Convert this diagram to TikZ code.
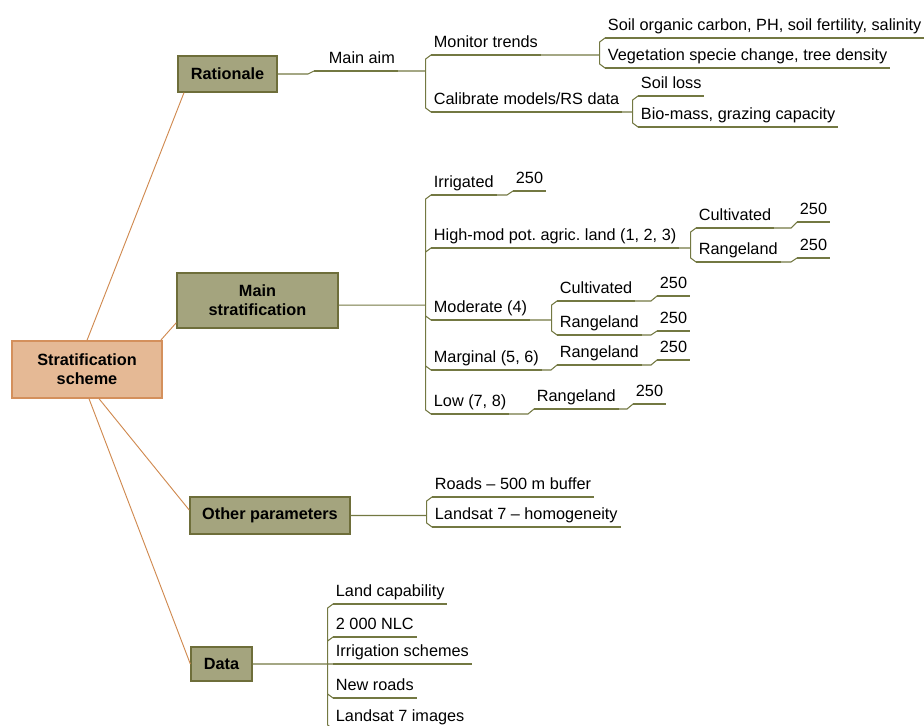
\documentclass[tikz,border=0pt]{standalone}
\usepackage{fontspec}
\setmainfont{Liberation Sans}
\usetikzlibrary{calc}
\frenchspacing

\definecolor{rootfill}{HTML}{E5B995}
\definecolor{rootline}{HTML}{D4905C}
\definecolor{boxfill}{HTML}{A4A47E}
\definecolor{boxline}{HTML}{6E6E3A}
\definecolor{branchcol}{HTML}{737842}
\definecolor{spokecol}{HTML}{D08A50}

\begin{document}
\begin{tikzpicture}[
  x=0.75pt, y=-0.75pt,
  every node/.style={font=\fontsize{12.2pt}{14.5pt}\selectfont},
  branch/.style={draw=branchcol, line width=0.8pt},
  spoke/.style={draw=spokecol, line width=0.7pt},
  hub/.style={draw=rootline, fill=rootfill, line width=1pt, align=center,
    font=\fontsize{12.2pt}{14.5pt}\selectfont\bfseries,
    minimum width=112.5pt, minimum height=42.75pt},
  topic/.style={draw=boxline, fill=boxfill, line width=1pt, align=center,
    font=\fontsize{12.2pt}{14.5pt}\selectfont\bfseries},
  item/.style={anchor=south west, inner xsep=2pt, inner ysep=2.4pt, text depth=2.9pt,
    append after command={(\tikzlastnode.south west) edge[branch] (\tikzlastnode.south east)}},
  elbow/.style={to path={let \p1=(\tikztostart), \p2=(\tikztotarget),
    \n1={(\y2-\y1>0.5)-(\y2-\y1<-0.5)} in
    -- (\x2-4pt,\y1) -- (\x2-4pt,\y2-\n1*3pt) -- (\x2,\y2)}},
  kink/.style={to path={let \p1=(\tikztostart), \p2=(\tikztotarget) in
    -- (\x2-4.5pt,\y1) -- (\x2,\y2)}}
]
  \useasboundingbox (0,0) rectangle (924,725);
  \clip (0,0) rectangle (924,725);

  % centre and main topics
  \node[hub] (root) at (87,369.5) {Stratification\\scheme};
  \node[topic, minimum width=74.25pt, minimum height=27pt] (rat) at (227.5,74) {Rationale};
  \node[topic, minimum width=120.75pt, minimum height=41.25pt] (mst) at (257.5,300.5) {Main\\stratification};
  \node[topic, minimum width=120pt, minimum height=27.75pt] (oth) at (270,515.5) {Other parameters};
  \node[topic, minimum width=45.75pt, minimum height=25.5pt] (dat) at (221.5,664) {Data};

  \draw[spoke] (root.north) -- ([xshift=5pt]rat.south west);
  \draw[spoke] ([xshift=-1.5pt]root.north east) -- ([yshift=4.5pt]mst.south west);
  \draw[spoke] ([xshift=9pt]root.south) -- ([yshift=4pt]oth.west);
  \draw[spoke] ([xshift=1.5pt]root.south) -- (dat.west);

  % rationale
  \node[item] (aim) at (314,71) {\hspace*{9pt}Main aim};
  \node[item] (mon) at (431,55) {Monitor trends};
  \node[item] (cal) at (431,112) {Calibrate models/RS data};
  \node[item] (soc) at (605,38) {Soil organic carbon, PH, soil fertility, salinity};
  \node[item] (veg) at (605,68) {Vegetation specie change, tree density};
  \node[item] (los) at (638,96) {Soil loss};
  \node[item] (bio) at (638,127) {Bio-mass, grazing capacity};
  \draw[branch] (rat.east) to[kink] (aim.south west);
  \draw[branch] (aim.south east) to[elbow] (mon.south west)
    (aim.south east) to[elbow] (cal.south west);
  \draw[branch] (mon.south east) to[elbow] (soc.south west)
    (mon.south east) to[elbow] (veg.south west);
  \draw[branch] (cal.south east) to[elbow] (los.south west)
    (cal.south east) to[elbow] (bio.south west);

  % main stratification
  \node[item] (irr) at (431,195) {Irrigated};
  \node[item] (irr250) at (513,191) {250};
  \node[item] (hmd) at (431,248) {High-mod pot. agric. land (1, 2, 3)};
  \node[item] (hmc) at (696,228) {Cultivated};
  \node[item] (hmc250) at (797,222) {250};
  \node[item] (hmr) at (696,262) {Rangeland};
  \node[item] (hmr250) at (797,258) {250};
  \node[item] (mod) at (431,320) {Moderate (4)};
  \node[item] (mdc) at (557,301) {Cultivated};
  \node[item] (mdc250) at (657,296) {250};
  \node[item] (mdr) at (557,335) {Rangeland};
  \node[item] (mdr250) at (657,331) {250};
  \node[item] (mar) at (431,370) {Marginal (5, 6)};
  \node[item] (mrr) at (557,365) {Rangeland};
  \node[item] (mrr250) at (657,360) {250};
  \node[item] (low) at (431,414) {Low (7, 8)};
  \node[item] (lwr) at (534,409) {Rangeland};
  \node[item] (lwr250) at (633,404) {250};
  \draw[branch] ([yshift=-3.4pt]mst.east) to[elbow] (irr.south west)
    ([yshift=-3.4pt]mst.east) to[elbow] (hmd.south west)
    ([yshift=-3.4pt]mst.east) to[elbow] (mod.south west)
    ([yshift=-3.4pt]mst.east) to[elbow] (mar.south west)
    ([yshift=-3.4pt]mst.east) to[elbow] (low.south west);
  \draw[branch] (irr.south east) to[kink] (irr250.south west);
  \draw[branch] (hmd.south east) to[elbow] (hmc.south west)
    (hmd.south east) to[elbow] (hmr.south west);
  \draw[branch] (hmc.south east) to[kink] (hmc250.south west);
  \draw[branch] (hmr.south east) to[kink] (hmr250.south west);
  \draw[branch] (mod.south east) to[elbow] (mdc.south west)
    (mod.south east) to[elbow] (mdr.south west);
  \draw[branch] (mdc.south east) to[kink] (mdc250.south west);
  \draw[branch] (mdr.south east) to[kink] (mdr250.south west);
  \draw[branch] (mar.south east) to[kink] (mrr.south west);
  \draw[branch] (mrr.south east) to[kink] (mrr250.south west);
  \draw[branch] (low.south east) to[kink] (lwr.south west);
  \draw[branch] (lwr.south east) to[kink] (lwr250.south west);

  % other parameters
  \node[item] (rds) at (432,497) {Roads – 500 m buffer};
  \node[item] (lsh) at (432,527) {Landsat 7 – homogeneity};
  \draw[branch] (oth.east) to[elbow] (rds.south west)
    (oth.east) to[elbow] (lsh.south west);

  % data
  \node[item] (lcp) at (333,604) {Land capability};
  \node[item] (nlc) at (333,637) {2 000 NLC};
  \node[item] (isc) at (333,664) {Irrigation schemes};
  \node[item] (nrd) at (333,698) {New roads};
  \node[item] (lsi) at (333,729) {Landsat 7 images};
  \draw[branch] (dat.east) to[elbow] (lcp.south west)
    (dat.east) to[elbow] (nlc.south west)
    (dat.east) to[elbow] (isc.south west)
    (dat.east) to[elbow] (nrd.south west)
    (dat.east) to[elbow] (lsi.south west);
\end{tikzpicture}
\end{document}
